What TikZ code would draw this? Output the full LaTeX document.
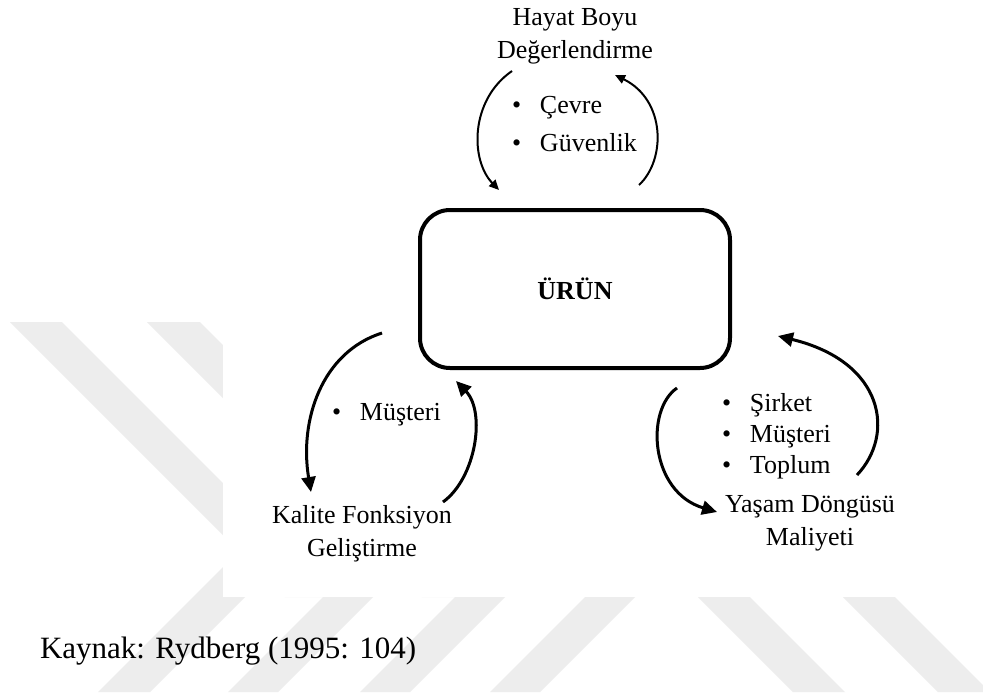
\documentclass[tikz,border=0pt]{standalone}
\usepackage{fontspec}
\setmainfont{Liberation Serif}
\usetikzlibrary{arrows.meta}
\definecolor{wm}{RGB}{237,237,237}
\newcommand{\bl}{\makebox[28pt][l]{\textbullet}}
\begin{document}
\begin{tikzpicture}[x=1pt,y=-1pt,
  every node/.style={inner sep=0pt, outer sep=0pt},
  lbl/.style={font=\fontsize{26}{33}\selectfont, align=center, anchor=base},
  blist/.style={font=\fontsize{26}{#1}\selectfont, align=left, anchor=base west},
  stripe/.style={fill=wm, draw=none},
  thinarc/.style={line width=2pt, -{Triangle[length=10pt,width=9pt]}},
  thickarc/.style={line width=3pt, -{Triangle[length=15pt,width=14pt]}},
  mainbox/.style={draw, line width=4pt, rounded corners=30pt, minimum width=310pt, minimum height=158pt, font=\fontsize{26}{30}\selectfont\bfseries}
]
\useasboundingbox (0,0) rectangle (983,697);
\fill[white] (0,0) rectangle (983,697);
% watermark stripes
\fill[stripe] (10,322) -- (62,322) -- (337,597) -- (285,597) -- cycle;
\fill[stripe] (147,322) -- (200,322) -- (475,597) -- (422,597) -- cycle;
\fill[stripe] (230,560) -- (282,560) -- (150,692) -- (98,692) -- cycle;
\fill[stripe] (323,597) -- (373,597) -- (278,692) -- (228,692) -- cycle;
\fill[stripe] (455,597) -- (505,597) -- (410,692) -- (360,692) -- cycle;
\fill[stripe] (585,597) -- (635,597) -- (540,692) -- (490,692) -- cycle;
\fill[stripe] (698,597) -- (750,597) -- (845,692) -- (793,692) -- cycle;
\fill[stripe] (843,597) -- (895,597) -- (990,692) -- (938,692) -- cycle;
\fill[white] (223,0) rectangle (983,597);

% main box
\node[mainbox] (urun) at (575,289) {ÜRÜN};

% labels (base anchor = baseline of the last line)
\node[lbl] (hayat) at (575,58) {Hayat Boyu\\Değerlendirme};
\node[lbl] (kalite) at (362,556) {Kalite Fonksiyon\\Geliştirme};
\node[lbl] (yasam) at (810,545) {Yaşam Döngüsü\\Maliyeti};

% bullet lists
\node[blist=38] (l1) at (512,151) {\bl Çevre\\\bl Güvenlik};
\node[blist=33] (l2) at (332,420) {\bl Müşteri};
\node[blist=31] (l3) at (722,473) {\bl Şirket\\\bl Müşteri\\\bl Toplum};

% arrow end points
\coordinate (a1s) at (512,71);  \coordinate (a1e) at (499,190);
\coordinate (a2s) at (639,185); \coordinate (a2e) at (615,75);
\coordinate (b1s) at (382,333); \coordinate (b1e) at (311,492);
\coordinate (b2s) at (443,502); \coordinate (b2e) at (456,381);
\coordinate (c1s) at (677,388); \coordinate (c1e) at (717,512);
\coordinate (c2s) at (857,475); \coordinate (c2e) at (778,336);

\draw[thinarc] (a1s) .. controls (470,100) and (470,160) .. (a1e);
\draw[thinarc] (a2s) .. controls (666,160) and (666,100) .. (a2e);
\draw[thickarc] (b1s) .. controls (322,352) and (299,420) .. (b1e);
\draw[thickarc] (b2s) .. controls (476,478) and (486,412) .. (b2e);
\draw[thickarc] (c1s) .. controls (645,410) and (650,492) .. (c1e);
\draw[thickarc] (c2s) .. controls (895,435) and (885,362) .. (c2e);

% source
\node[font=\fontsize{31}{36}\selectfont, anchor=base west] (kaynak) at (40,658) {Kaynak: Rydberg (1995: 104)};
\end{tikzpicture}
\end{document}
